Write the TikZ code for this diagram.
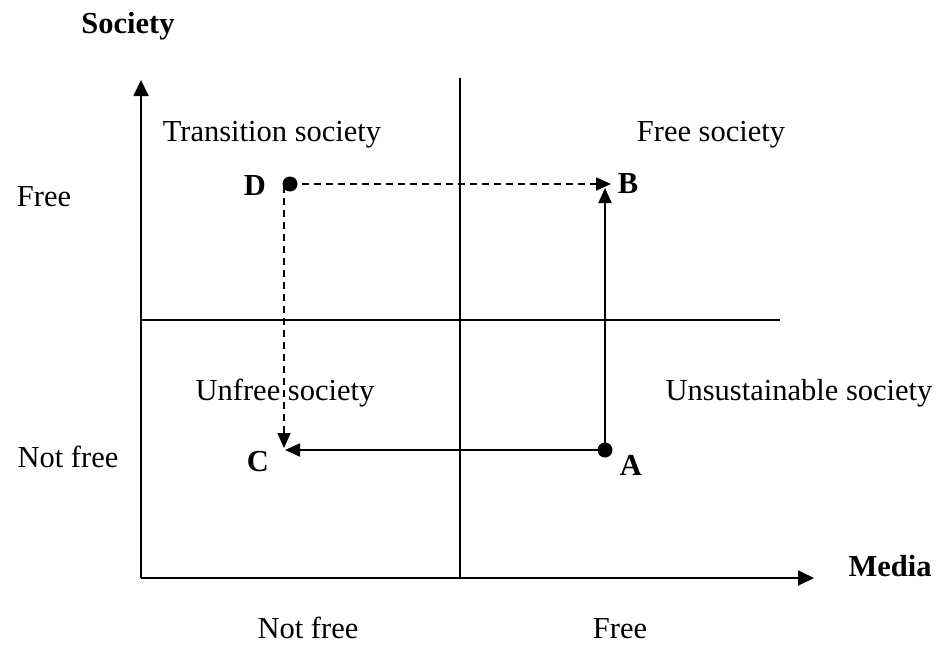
\documentclass[tikz,border=0pt]{standalone}
\usepackage{fontspec}
\setmainfont{Liberation Serif}
\usetikzlibrary{arrows.meta}
\begin{document}
\begin{tikzpicture}[x=1pt,y=-1pt,
  lbl/.style={font=\fontsize{30.5}{33}\selectfont, inner sep=0pt, anchor=base},
  blbl/.style={lbl, font=\fontsize{30.5}{33}\selectfont\bfseries},
  ln/.style={line width=1.8pt},
  arr/.style={ln, -{Triangle[length=15pt,width=13pt]}},
  axarr/.style={ln, -{Triangle[length=16pt,width=15pt]}},
  dsh/.style={dash pattern=on 7pt off 5pt},
  dot/.style={circle, fill=black, minimum size=15pt, inner sep=0pt}]
\useasboundingbox (0,0) rectangle (939,645);
% axes and quadrant dividers
\coordinate (O) at (141,578);
\coordinate (Ytop) at (141,80);
\coordinate (Xend) at (814,578);
\draw[axarr] (O) -- (Ytop);
\draw[axarr] (O) -- (Xend);
\coordinate (Vt) at (460,78);
\coordinate (Vb) at (460,578);
\draw[ln] (Vt) -- (Vb);
\coordinate (Hl) at (141,320);
\coordinate (Hr) at (780,320);
\draw[ln] (Hl) -- (Hr);
% points and moves between them
\node[dot] (D) at (290,184) {};
\node[dot] (A) at (605,450) {};
\coordinate (Dv) at (284,186);
\coordinate (B) at (611,184);
\coordinate (Bv) at (605,188);
\coordinate (C) at (285,450);
\coordinate (Cv) at (284,448);
\draw[arr] (A.center) -- (Bv);
\draw[arr] (A.center) -- (C);
\draw[arr, dsh] (D.center) -- (B);
\draw[arr, dsh] (Dv) -- (Cv);
% point labels
\node[blbl] (lD) at (255,195) {D};
\node[blbl] (lB) at (628,193) {B};
\node[blbl] (lC) at (258,471) {C};
\node[blbl] (lA) at (631,475) {A};
% axis titles and ticks
\node[blbl] (soc) at (128,33) {Society};
\node[blbl] (med) at (890,576) {Media};
\node[lbl] (yf) at (44,206) {Free};
\node[lbl] (ynf) at (68,467) {Not free};
\node[lbl] (xnf) at (308,638) {Not free};
\node[lbl] (xf) at (620,638) {Free};
% quadrant names
\node[lbl] (q1) at (272,141) {Transition society};
\node[lbl] (q2) at (711,141) {Free society};
\node[lbl] (q3) at (285,400) {Unfree society};
\node[lbl] (q4) at (799,400) {Unsustainable society};
\end{tikzpicture}
\end{document}
